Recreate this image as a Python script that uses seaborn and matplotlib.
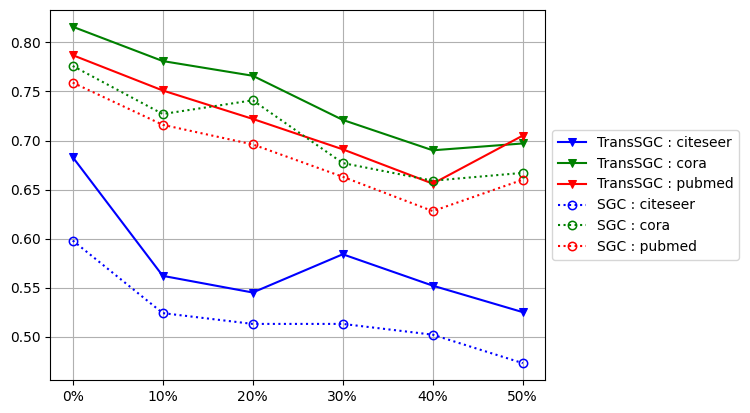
import matplotlib
matplotlib.use("Agg")
import matplotlib.pyplot as plt
import seaborn as sns
import pandas as pd

ratios = ["0%", "10%", "20%", "30%", "40%", "50%"]

trans_citeseer = [0.683, 0.562, 0.545, 0.584, 0.552, 0.525]
trans_cora = [0.816, 0.781, 0.766, 0.721, 0.690, 0.697]
trans_pubmed = [0.787, 0.751, 0.722, 0.691, 0.656, 0.705]

sgc_citeseer = [0.598, 0.524, 0.513, 0.513, 0.502, 0.473]
sgc_cora = [0.776, 0.727, 0.741, 0.677, 0.659, 0.667]
sgc_pubmed = [0.759, 0.716, 0.696, 0.663, 0.628, 0.660]

series = [
    ("TransSGC : citeseer", trans_citeseer, "blue", "-", "v"),
    ("TransSGC : cora", trans_cora, "green", "-", "v"),
    ("TransSGC : pubmed", trans_pubmed, "red", "-", "v"),
    ("SGC : citeseer", sgc_citeseer, "blue", ":", "o"),
    ("SGC : cora", sgc_cora, "green", ":", "o"),
    ("SGC : pubmed", sgc_pubmed, "red", ":", "o"),
]

fig, ax = plt.subplots(figsize=(7.5, 4.13), dpi=100)
fig.subplots_adjust(left=0.067, right=0.727, top=0.976, bottom=0.080)

x = list(range(len(ratios)))
for name, vals, color, ls, mk in series:
    df = pd.DataFrame({"x": x, "y": vals})
    if mk == "o":
        kw = dict(markerfacecolor="none", markeredgecolor=color, markeredgewidth=1.1)
    else:
        kw = dict(markerfacecolor=color, markeredgecolor=color)
    sns.lineplot(data=df, x="x", y="y", ax=ax, color=color, linestyle=ls,
                 marker=mk, markersize=6, linewidth=1.5, label=name, **kw)

ax.set_xticks(x)
ax.set_xticklabels(ratios)
ax.set_xlabel("")
ax.set_ylabel("")
ax.grid(True, color="#b0b0b0", linewidth=0.8)
ax.set_axisbelow(True)
ax.legend(loc="center left", bbox_to_anchor=(1.0, 0.5))

fig.savefig("out.png", dpi=100)
